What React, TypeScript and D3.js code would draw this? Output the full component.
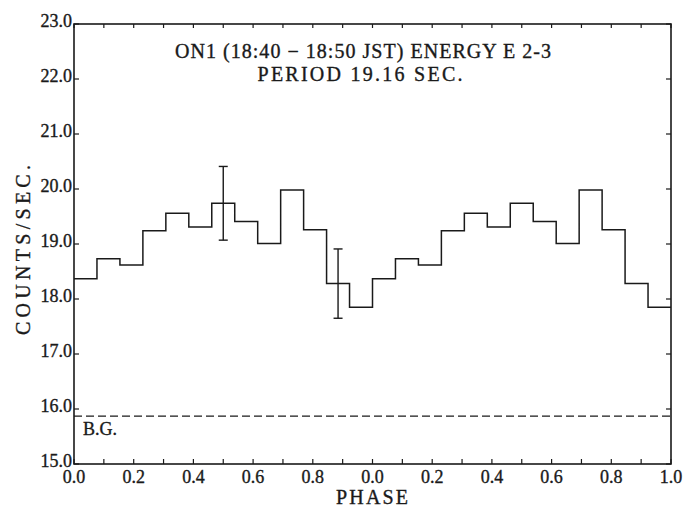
import React from "react";
import * as d3 from "d3";

// Folded light curve: counts per phase bin (13 bins per cycle), shown over two cycles
const phaseBinCounts = [18.37, 18.73, 18.62, 19.24, 19.56, 19.31, 19.74, 19.41, 19.01, 19.98, 19.26, 18.28, 17.85];
const cyclesShown = 2;
// Representative 1-sigma error bars (bin index within the first cycle, half-width)
const errorBinIndex = [6, 11];
const errorHalfWidth = [0.67, 0.63];
// Background level
const backgroundLevel = 15.87;
const backgroundLabel = "B.G.";
// Axes
const yTickValues = [15, 16, 17, 18, 19, 20, 21, 22, 23];
const xMinorStep = 0.1;
const xLabelStep = 0.2;
const titleLines = ["ON1 (18:40 \u2212 18:50 JST) ENERGY E 2-3", "PERIOD 19.16  SEC."];
const xAxisTitle = "PHASE";
const yAxisTitle = "COUNTS/SEC.";

const W = 686;
const H = 516;
const M = { left: 74, right: 671, top: 24, bottom: 464 };
const FONT = "Liberation Serif, DejaVu Serif, serif";
const INK = "#1a1a1a";

export default function App() {
  const x = d3.scaleLinear().domain([0, cyclesShown]).range([M.left, M.right]);
  const y = d3.scaleLinear().domain([15, 23]).range([M.bottom, M.top]);

  const nBins = phaseBinCounts.length;
  const points: [number, number][] = [];
  for (let c = 0; c < cyclesShown; c++) {
    phaseBinCounts.forEach((v, i) => points.push([c + i / nBins, v]));
  }
  points.push([cyclesShown, phaseBinCounts[nBins - 1]]);

  const line = d3
    .line<[number, number]>()
    .x((d) => x(d[0]))
    .y((d) => y(d[1]))
    .curve(d3.curveStepAfter);

  const minorTicks = d3.range(0, cyclesShown + 1e-9, xMinorStep);
  const labelTicks = d3.range(0, cyclesShown + 1e-9, xLabelStep);
  const fmtPhase = (p: number) => {
    const r = Math.round(p * 10) / 10;
    if (r === cyclesShown) return "1.0";
    return (r % 1).toFixed(1);
  };

  const tickLen = 5;
  // slightly heavier lettering, like a printed figure
  const textStyle = { fontFamily: FONT, stroke: INK, strokeWidth: 0.35 };

  return (
    <svg
      width={W}
      height={H}
      style={{ position: "absolute", left: 0, top: 0, background: "#fff", fontFamily: FONT }}
    >
      {/* frame */}
      <rect
        x={M.left}
        y={M.top}
        width={M.right - M.left}
        height={M.bottom - M.top}
        fill="none"
        stroke={INK}
        strokeWidth={1.6}
      />

      {/* x ticks, bottom and top, pointing inward */}
      {minorTicks.map((t, i) => (
        <g key={"xt" + i}>
          <line x1={x(t)} x2={x(t)} y1={M.bottom} y2={M.bottom - tickLen} stroke={INK} strokeWidth={1.2} />
          <line x1={x(t)} x2={x(t)} y1={M.top} y2={M.top + 4} stroke={INK} strokeWidth={1.2} />
        </g>
      ))}
      {labelTicks.map((t, i) => (
        <text key={"xl" + i} x={x(t)} y={482.5} textAnchor="middle" fontSize={18} fill={INK} style={textStyle}>
          {fmtPhase(t)}
        </text>
      ))}

      {/* y ticks, left and right, pointing inward */}
      {yTickValues.map((v) => (
        <g key={"yt" + v}>
          <line x1={M.left} x2={M.left + tickLen} y1={y(v)} y2={y(v)} stroke={INK} strokeWidth={1.2} />
          <line x1={M.right} x2={M.right - tickLen} y1={y(v)} y2={y(v)} stroke={INK} strokeWidth={1.2} />
          <text x={72} y={y(v) + 3} textAnchor="end" fontSize={18} fill={INK} style={textStyle}>
            {v.toFixed(1)}
          </text>
        </g>
      ))}

      {/* background level */}
      <line
        x1={M.left}
        x2={M.right}
        y1={y(backgroundLevel)}
        y2={y(backgroundLevel)}
        stroke={INK}
        strokeWidth={1.2}
        strokeDasharray="8,4"
      />
      <text x={83} y={435} fontSize={18} fill={INK} style={textStyle}>
        {backgroundLabel}
      </text>

      {/* light curve */}
      <path d={line(points) || ""} fill="none" stroke={INK} strokeWidth={1.5} />

      {/* error bars */}
      {errorBinIndex.map((bi, k) => {
        const cx = x((bi + 0.5) / nBins);
        const v = phaseBinCounts[bi];
        const e = errorHalfWidth[k];
        return (
          <g key={"eb" + k} stroke={INK} strokeWidth={1.4}>
            <line x1={cx} x2={cx} y1={y(v + e)} y2={y(v - e)} />
            <line x1={cx - 4.5} x2={cx + 4.5} y1={y(v + e)} y2={y(v + e)} />
            <line x1={cx - 4.5} x2={cx + 4.5} y1={y(v - e)} y2={y(v - e)} />
          </g>
        );
      })}

      {/* title */}
      <text x={363} y={58} textAnchor="middle" fontSize={20} fill={INK} style={textStyle} textLength={376} lengthAdjust="spacing">
        {titleLines[0]}
      </text>
      <text x={360} y={81} textAnchor="middle" fontSize={20} fill={INK} style={textStyle} textLength={205} lengthAdjust="spacing">
        {titleLines[1]}
      </text>

      {/* axis titles */}
      <text x={372} y={504} textAnchor="middle" fontSize={20} fill={INK} style={textStyle} textLength={72} lengthAdjust="spacing">
        {xAxisTitle}
      </text>
      <text
        transform={`translate(30,250) rotate(-90)`}
        textAnchor="middle"
        fontSize={20}
        fill={INK}
        style={textStyle}
        textLength={170}
        lengthAdjust="spacing"
      >
        {yAxisTitle}
      </text>
    </svg>
  );
}
